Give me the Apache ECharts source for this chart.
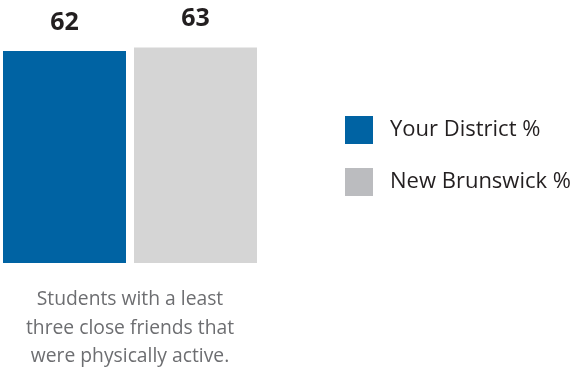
<!DOCTYPE html>
<html>
<head>
<meta charset="utf-8">
<script src="https://cdn.jsdelivr.net/npm/echarts@6/dist/echarts.min.js"></script>
<style>
  html, body { margin: 0; padding: 0; background: #ffffff; }
  #chart { width: 572px; height: 369px; }
</style>
</head>
<body>
<div id="chart"></div>
<script>
// Chart data
const categories = ['Students with a least\nthree close friends that\nwere physically active.'];
const seriesNames = ['Your District %', 'New Brunswick %'];
const districtValues = [62];
const provinceValues = [63];

const barColors = ['#0063a3', '#d5d5d5'];
const legendColors = ['#0063a3', '#bbbcbf'];
const fontFamily = '"Open Sans", "Noto Sans", sans-serif';

const chart = echarts.init(document.getElementById('chart'), null, { renderer: 'canvas' });

const labelStyle = {
  show: true,
  position: 'top',
  distance: 16,
  fontFamily: fontFamily,
  fontSize: 25,
  fontWeight: 'bold',
  color: '#231f20'
};

chart.setOption({
  animation: false,
  grid: { left: 3, width: 254, top: 6.5, bottom: 106, containLabel: false, outerBoundsMode: 'none' },
  xAxis: {
    type: 'category',
    data: categories,
    axisLine: { show: false },
    axisTick: { show: false },
    axisLabel: {
      margin: 22,
      fontFamily: fontFamily,
      fontSize: 19.3,
      lineHeight: 28.7,
      color: '#6d6e71',
      align: 'center'
    }
  },
  yAxis: {
    type: 'value',
    min: 0,
    max: 75,
    show: false,
    splitLine: { show: false }
  },
  legend: {
    orient: 'vertical',
    left: 345,
    top: 116,
    padding: 0,
    itemWidth: 28,
    itemHeight: 28,
    itemGap: 24,
    icon: 'rect',
    textStyle: { fontFamily: fontFamily, fontSize: 22, color: '#231f20', padding: [0, 0, 0, 12] },
    data: [
      { name: seriesNames[0], itemStyle: { color: legendColors[0] } },
      { name: seriesNames[1], itemStyle: { color: legendColors[1] } }
    ]
  },
  series: [
    {
      name: seriesNames[0],
      type: 'bar',
      data: districtValues,
      barWidth: 123,
      barGap: '6.5%',
      itemStyle: { color: barColors[0] },
      label: labelStyle
    },
    {
      name: seriesNames[1],
      type: 'bar',
      data: provinceValues,
      barWidth: 123,
      barGap: '6.5%',
      itemStyle: { color: barColors[1] },
      label: labelStyle
    }
  ]
});
</script>
</body>
</html>
